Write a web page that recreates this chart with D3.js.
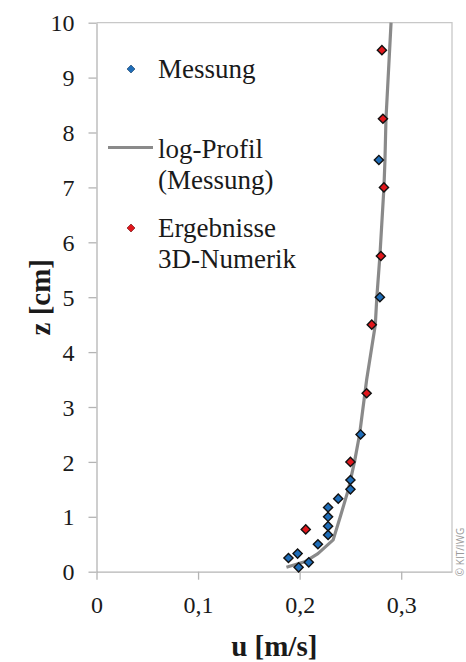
<!DOCTYPE html>
<html>
<head>
<meta charset="utf-8">
<script src="https://cdn.jsdelivr.net/npm/d3@7"></script>
<style>
  body { margin: 0; background: #fff; }
  svg { display: block; }
</style>
</head>
<body>
<div class="profile_chart"></div>
<script>
// Messung (measured points): u [m/s], z [cm]
const messU = [0.199, 0.209, 0.189, 0.198, 0.218, 0.228, 0.228, 0.228, 0.228, 0.238, 0.250, 0.250, 0.260, 0.279, 0.278];
const messZ = [0.08, 0.17, 0.25, 0.33, 0.5, 0.67, 0.83, 1.0, 1.17, 1.33, 1.5, 1.67, 2.5, 5.0, 7.5];

// Ergebnisse 3D-Numerik
const numU = [0.206, 0.250, 0.266, 0.271, 0.280, 0.283, 0.282, 0.281];
const numZ = [0.77, 2.0, 3.25, 4.5, 5.75, 7.0, 8.25, 9.5];

// log-Profil (Messung)
const logU = [0.187, 0.205, 0.218, 0.233, 0.240, 0.248, 0.254, 0.259, 0.266, 0.2745, 0.276, 0.279, 0.283, 0.284, 0.285, 0.290];
const logZ = [0.08, 0.18, 0.33, 0.58, 1.0, 1.5, 2.0, 2.5, 3.5, 4.5, 5.0, 5.75, 7.0, 7.5, 8.25, 10];

const xTicks = [0, 0.1, 0.2, 0.3];
const yTicks = [0, 1, 2, 3, 4, 5, 6, 7, 8, 9, 10];

const legendItems = ["Messung", "log-Profil", "Ergebnisse"];

const width = 466, height = 662;
const margin = { top: 22.7, right: 14, bottom: 90.3, left: 96.5 };

const blue = "#1f6db8", red = "#e1171c", lineGray = "#8a8a8a", axisGray = "#b4b4b4";
const serif = "'Liberation Serif', 'Times New Roman', serif";

const svg = d3.select(".profile_chart")
  .append("svg")
  .attr("width", width)
  .attr("height", height);

const x = d3.scaleLinear().domain([0, 0.35]).range([margin.left, width - margin.right]);
const y = d3.scaleLinear().domain([0, 10]).range([height - margin.bottom, margin.top]);

const fmt = (d) => d === 0 ? "0" : d3.format(".1f")(d).replace(".", ",");

// frame (top + right)
svg.append("path")
  .attr("d", `M${x(0)},${y(10)}H${x(0.35)}V${y(0)}`)
  .attr("fill", "none")
  .attr("stroke", "#c8c8c8")
  .attr("stroke-width", 1.3);

// x axis
const xAxis = svg.append("g")
  .attr("transform", `translate(0,${y(0)})`)
  .call(d3.axisBottom(x).tickValues(xTicks).tickFormat(fmt).tickSize(8).tickSizeOuter(0));

// y axis
const yAxis = svg.append("g")
  .attr("transform", `translate(${x(0)},0)`)
  .call(d3.axisLeft(y).tickValues(yTicks).tickSize(8).tickSizeOuter(0));

[xAxis, yAxis].forEach((g) => {
  g.attr("font-family", serif);
  g.select(".domain").attr("stroke", axisGray).attr("stroke-width", 1.3);
  g.selectAll(".tick line").attr("stroke", axisGray).attr("stroke-width", 1.3);
  g.selectAll(".tick text")
    .attr("font-family", serif)
    .attr("font-size", 24)
    .attr("fill", "#1a1a1a");
});
xAxis.selectAll(".tick text").attr("dy", null).attr("y", 41);
yAxis.selectAll(".tick text").attr("x", -22).attr("dy", "0.34em");

// axis titles
svg.append("text")
  .attr("x", (x(0) + x(0.35)) / 2)
  .attr("y", 656)
  .attr("text-anchor", "middle")
  .attr("font-family", serif)
  .attr("font-weight", "bold")
  .attr("font-size", 29)
  .attr("fill", "#1a1a1a")
  .text("u [m/s]");

svg.append("text")
  .attr("transform", `translate(50,${(y(0) + y(10)) / 2}) rotate(-90)`)
  .attr("text-anchor", "middle")
  .attr("font-family", serif)
  .attr("font-weight", "bold")
  .attr("font-size", 29)
  .attr("fill", "#1a1a1a")
  .text("z [cm]");

// log profile line
const line = d3.line()
  .x((d) => x(d[0]))
  .y((d) => y(d[1]));

svg.append("path")
  .datum(logU.map((u, i) => [u, logZ[i]]))
  .attr("d", line)
  .attr("fill", "none")
  .attr("stroke", lineGray)
  .attr("stroke-width", 3.2)
  .attr("stroke-linejoin", "round");

const diamond = d3.symbol().type(d3.symbolSquare).size(42);

function drawPoints(us, zs, fill) {
  svg.append("g")
    .selectAll("path")
    .data(us.map((u, i) => [u, zs[i]]))
    .join("path")
    .attr("d", diamond)
    .attr("transform", (d) => `translate(${x(d[0])},${y(d[1])}) rotate(45)`)
    .attr("fill", fill)
    .attr("stroke", "#111")
    .attr("stroke-width", 1.4);
}

drawPoints(numU, numZ, red);
drawPoints(messU, messZ, blue);

// legend
const legend = svg.append("g");
const legendText = (t, ty) => legend.append("text")
  .attr("x", 158)
  .attr("y", ty)
  .attr("font-family", serif)
  .attr("font-size", 27)
  .attr("fill", "#1a1a1a")
  .text(t);

legend.append("path")
  .attr("d", d3.symbol().type(d3.symbolSquare).size(32))
  .attr("transform", "translate(131,69) rotate(45)")
  .attr("fill", blue)
  .attr("stroke", "#1a3f66")
  .attr("stroke-width", 0.6);
legendText(legendItems[0], 78);

legend.append("line")
  .attr("x1", 108).attr("x2", 153)
  .attr("y1", 147.5).attr("y2", 147.5)
  .attr("stroke", lineGray)
  .attr("stroke-width", 3.2);
legendText(legendItems[1], 158);
legendText("(Messung)", 188.5);

legend.append("path")
  .attr("d", d3.symbol().type(d3.symbolSquare).size(32))
  .attr("transform", "translate(131,228) rotate(45)")
  .attr("fill", red)
  .attr("stroke", "#6b1010")
  .attr("stroke-width", 0.6);
legendText(legendItems[2], 237);
legendText("3D-Numerik", 268);

// copyright
svg.append("text")
  .attr("transform", `translate(464,${552}) rotate(-90)`)
  .attr("text-anchor", "middle")
  .attr("font-family", "'Open Sans', sans-serif")
  .attr("font-size", 10)
  .attr("fill", "#9a9a9a")
  .text("© KIT/IWG");
</script>
</body>
</html>
